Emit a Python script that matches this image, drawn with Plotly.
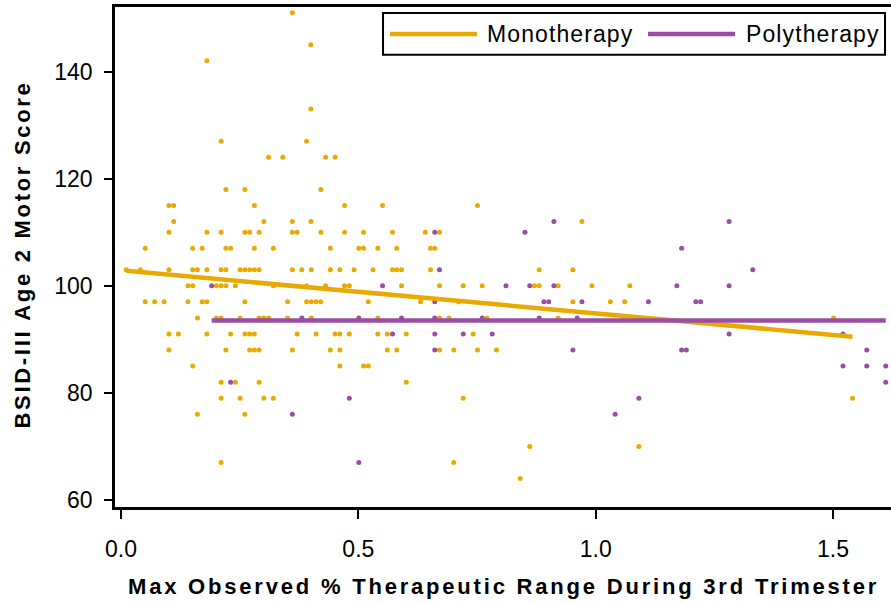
import plotly.graph_objects as go

# ---------------- data ----------------
mono_x = [
    0.361,
    0.400,
    0.181,
    0.400,
    0.211, 0.391,
    0.311, 0.341, 0.431, 0.451,
    0.221, 0.261, 0.421,
    0.101, 0.111, 0.281, 0.471, 0.551, 0.751,
    0.111, 0.301, 0.361, 0.400, 0.971,
    0.101, 0.181, 0.211, 0.261, 0.271, 0.291, 0.361, 0.371, 0.421, 0.471, 0.511, 0.572, 0.641, 0.671,
    0.051, 0.151, 0.171, 0.221, 0.231, 0.281, 0.321, 0.441, 0.501, 0.511, 0.541, 0.581, 0.652, 0.661,
    0.011, 0.041, 0.101, 0.151, 0.161, 0.181, 0.211, 0.221, 0.251, 0.261, 0.271, 0.281, 0.291, 0.361, 0.381, 0.401, 0.441, 0.461, 0.491, 0.531, 0.572, 0.581, 0.591, 0.652, 0.881, 0.952,
    0.141, 0.151, 0.201, 0.211, 0.221, 0.241, 0.321, 0.391, 0.431, 0.471, 0.481, 0.591, 0.671, 0.721, 0.761, 0.871, 0.881, 0.921, 0.992, 1.072,
    0.051, 0.071, 0.091, 0.141, 0.171, 0.181, 0.261, 0.351, 0.391, 0.401, 0.411, 0.421, 0.521, 0.631, 0.711, 0.952, 1.031, 1.061,
    0.161, 0.201, 0.211, 0.251, 0.291, 0.301, 0.311, 0.351, 0.401, 0.541, 0.671, 0.691, 0.771, 0.921, 1.501,
    0.101, 0.121, 0.181, 0.231, 0.261, 0.271, 0.281, 0.371, 0.411, 0.451, 0.461, 0.481, 0.541, 0.561, 0.601, 0.742,
    0.101, 0.221, 0.271, 0.281, 0.291, 0.361, 0.441, 0.461, 0.561, 0.581, 0.671, 0.701, 0.751, 0.791,
    0.151, 0.461, 0.511, 0.521,
    0.211, 0.241, 0.291, 0.601,
    0.211, 0.251, 0.301, 0.321, 0.721, 1.541,
    0.161, 0.261,
    0.861, 1.091,
    0.211, 0.701,
    0.841,
]
mono_y = [
    151,
    145,
    142,
    133,
    127, 127,
    124, 124, 124, 124,
    118, 118, 118,
    115, 115, 115, 115, 115, 115,
    112, 112, 112, 112, 112,
    110, 110, 110, 110, 110, 110, 110, 110, 110, 110, 110, 110, 110, 110,
    107, 107, 107, 107, 107, 107, 107, 107, 107, 107, 107, 107, 107, 107,
    103, 103, 103, 103, 103, 103, 103, 103, 103, 103, 103, 103, 103, 103, 103, 103, 103, 103, 103, 103, 103, 103, 103, 103, 103, 103,
    100, 100, 100, 100, 100, 100, 100, 100, 100, 100, 100, 100, 100, 100, 100, 100, 100, 100, 100, 100,
    97, 97, 97, 97, 97, 97, 97, 97, 97, 97, 97, 97, 97, 97, 97, 97, 97, 97,
    94, 94, 94, 94, 94, 94, 94, 94, 94, 94, 94, 94, 94, 94, 94,
    91, 91, 91, 91, 91, 91, 91, 91, 91, 91, 91, 91, 91, 91, 91, 91,
    88, 88, 88, 88, 88, 88, 88, 88, 88, 88, 88, 88, 88, 88,
    85, 85, 85, 85,
    82, 82, 82, 82,
    79, 79, 79, 79, 79, 79,
    76, 76,
    70, 70,
    67, 67,
    64,
]

poly_x = [
    0.912, 1.281,
    0.661, 0.851,
    1.181,
    0.671, 1.331,
    0.191, 0.551, 0.811, 0.861, 0.912, 1.171, 1.281,
    0.661, 0.891, 0.901, 0.971, 1.111, 1.211, 1.221,
    0.381, 0.501, 0.591, 0.661, 0.761, 0.881, 0.961,
    0.572, 0.661, 0.721, 0.782, 1.281, 1.521,
    0.661, 0.952, 1.181, 1.191, 1.571,
    1.521, 1.571, 1.611,
    0.231, 1.611,
    0.481, 1.091,
    0.361, 1.041,
    0.501,
]
poly_y = [
    112, 112,
    110, 110,
    107,
    103, 103,
    100, 100, 100, 100, 100, 100, 100,
    97, 97, 97, 97, 97, 97, 97,
    94, 94, 94, 94, 94, 94, 94,
    91, 91, 91, 91, 91, 91,
    88, 88, 88, 88, 88,
    85, 85, 85,
    82, 82,
    79, 79,
    76, 76,
    67,
]

# fitted lines (end points)
mono_fit_x = [0.011, 1.541]
mono_fit_y = [102.8, 90.5]
poly_fit_x = [0.191, 1.611]
poly_fit_y = [93.5, 93.5]

series_names = ["Monotherapy", "Polytherapy"]
x_tick_vals = [0.0, 0.5, 1.0, 1.5]
x_tick_text = ["0.0", "0.5", "1.0", "1.5"]
y_tick_vals = [60, 80, 100, 120, 140]
x_title = "Max Observed % Therapeutic Range During 3rd Trimester"
y_title = "BSID-III Age 2 Motor Score"

assert len(mono_x) == len(mono_y)
assert len(poly_x) == len(poly_y)

# ---------------- styling ----------------
MONO_COLOR = "#E8AA00"
POLY_COLOR = "#984EA3"
FONT = "Liberation Sans, Arial, sans-serif"

fig = go.Figure()
fig.add_trace(go.Scatter(x=mono_x, y=mono_y, mode="markers", name=series_names[0],
                         marker=dict(color=MONO_COLOR, size=5, line=dict(width=0)),
                         showlegend=False))
fig.add_trace(go.Scatter(x=poly_x, y=poly_y, mode="markers", name=series_names[1],
                         marker=dict(color=POLY_COLOR, size=5, line=dict(width=0)),
                         showlegend=False))
fig.add_trace(go.Scatter(x=mono_fit_x, y=mono_fit_y, mode="lines", name=series_names[0],
                         line=dict(color=MONO_COLOR, width=4.5), showlegend=False))
fig.add_trace(go.Scatter(x=poly_fit_x, y=poly_fit_y, mode="lines", name=series_names[1],
                         line=dict(color=POLY_COLOR, width=4.5), showlegend=False))

axis_common = dict(showgrid=False, zeroline=False, showline=True, linecolor="black",
                   linewidth=2.5, ticks="outside", tickcolor="black", tickwidth=2,
                   tickfont=dict(family=FONT, size=23, color="black"))

fig.update_xaxes(range=[-0.0126, 1.6221], tickvals=x_tick_vals, ticktext=x_tick_text,
                 ticklen=9, mirror=True, ticklabelstandoff=11, **axis_common)
fig.update_yaxes(range=[58.69, 152.06], tickvals=y_tick_vals,
                 ticklen=8, mirror=False, ticklabelstandoff=7, **axis_common)

annotations = [
    dict(text='<span style="letter-spacing:2.8px">' + x_title + '</span>',
         xref="paper", yref="paper", x=0.5, y=-0.158, xanchor="center", yanchor="middle",
         showarrow=False, font=dict(family=FONT, size=22, color="black", weight=700)),
    dict(text='<span style="letter-spacing:2.7px">' + y_title + '</span>',
         xref="paper", yref="paper", x=-0.1198, y=0.505, xanchor="center", yanchor="middle",
         textangle=-90, showarrow=False,
         font=dict(family=FONT, size=22, color="black", weight=700)),
    dict(text='<span style="letter-spacing:1.1px">' + series_names[0] + '</span>',
         xref="paper", yref="paper", x=0.477, y=0.946, xanchor="left", yanchor="middle",
         showarrow=False, font=dict(family=FONT, size=23, color="black")),
    dict(text='<span style="letter-spacing:1.1px">' + series_names[1] + '</span>',
         xref="paper", yref="paper", x=0.8105, y=0.946, xanchor="left", yanchor="middle",
         showarrow=False, font=dict(family=FONT, size=23, color="black")),
]

shapes = [
    dict(type="rect", xref="paper", yref="paper", x0=0.3454, x1=0.9923, y0=0.9046, y1=0.988,
         line=dict(color="black", width=2), fillcolor="white", layer="above"),
    dict(type="line", xref="paper", yref="paper", x0=0.3544, x1=0.4665, y0=0.946, y1=0.946,
         line=dict(color=MONO_COLOR, width=4.5), layer="above"),
    dict(type="line", xref="paper", yref="paper", x0=0.6869, x1=0.7990, y0=0.946, y1=0.946,
         line=dict(color=POLY_COLOR, width=4.5), layer="above"),
]

fig.update_layout(width=891, height=603, margin=dict(l=115, r=0, t=7, b=96),
                  plot_bgcolor="white", paper_bgcolor="white", showlegend=False,
                  font=dict(family=FONT, color="black"),
                  annotations=annotations, shapes=shapes)

fig.write_html("out.html", config={"displayModeBar": False},
               post_script="document.body.style.margin='0';document.body.style.overflow='hidden';")
